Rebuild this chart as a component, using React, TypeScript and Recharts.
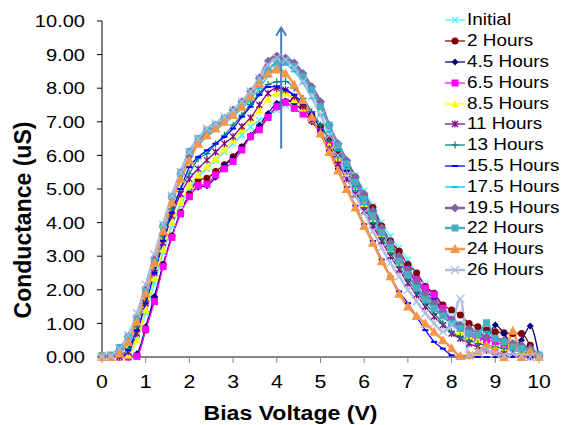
import React from "react";
import { LineChart, Line, XAxis, YAxis, Legend, ReferenceLine, Label } from "recharts";

// Bias voltage sweep, 0.2 V steps
const VOLTS = [
  0, 0.2, 0.4, 0.6, 0.8, 1, 1.2, 1.4, 1.6, 1.8, 2, 2.2, 2.4, 2.6, 2.8, 3, 3.2, 3.4, 3.6, 3.8,
  4, 4.2, 4.4, 4.6, 4.8, 5, 5.2, 5.4, 5.6, 5.8, 6, 6.2, 6.4, 6.6, 6.8, 7, 7.2, 7.4, 7.6, 7.8,
  8, 8.2, 8.4, 8.6, 8.8, 9, 9.2, 9.4, 9.6, 9.8, 10,
];

// Conductance (uS) per soak time
const INITIAL = [
  0, 0, 0, 0.1, 0.5, 1.3, 2.2, 3.1, 3.9, 4.5, 5.0, 5.35, 5.6, 5.85, 6.1, 6.35, 6.6, 6.85, 7.05, 7.2,
  7.35, 7.5, 7.55, 7.45, 7.2, 6.9, 6.55, 6.15, 5.8, 5.4, 4.95, 4.5, 4.0, 3.6, 3.25, 2.9, 2.5, 2.15, 1.8, 1.5,
  1.2, 1.0, 0.85, 0.75, 0.6, 0.5, 0.45, 0.3, 0.25, 0.2, 0.1,
];
const H2 = [
  0, 0, 0, 0, 0.05, 0.8, 1.75, 2.75, 3.6, 4.3, 4.85, 5.28, 5.32, 5.52, 5.72, 5.96, 6.25, 6.55, 6.83, 7.15,
  7.45, 7.6, 7.65, 7.45, 7.2, 6.85, 6.5, 6.1, 5.75, 5.35, 4.8, 4.45, 3.9, 3.45, 3.15, 2.75, 2.5, 2.1, 1.9, 1.55,
  1.4, 1.25, 1.0, 0.9, 0.8, 0.75, 0.72, 0.7, 0.7, 0.35, 0,
];
const H4_5 = [
  0, 0, 0, 0, 0.1, 0.9, 1.8, 2.75, 3.6, 4.3, 4.8, 5.05, 5.1, 5.35, 5.71, 5.9, 6.25, 6.6, 6.9, 7.25,
  7.55, 7.62, 7.55, 7.3, 7.0, 6.7, 6.35, 5.95, 5.55, 5.1, 4.7, 4.25, 3.75, 3.2, 2.85, 2.5, 2.25, 1.95, 1.75, 1.35,
  1.1, 0.95, 0.75, 0.6, 0.55, 0.95, 0.7, 0.35, 0.5, 0.92, 0,
];
const H6_5 = [
  0, 0, 0, 0, 0.02, 0.83, 1.65, 2.69, 3.56, 4.26, 4.77, 5.1, 5.14, 5.42, 5.6, 5.82, 6.16, 6.56, 6.76, 7.13,
  7.45, 7.58, 7.4, 7.23, 7.05, 6.7, 6.3, 5.85, 5.4, 4.95, 4.5, 4.1, 3.65, 3.25, 2.95, 2.6, 2.3, 2.05, 1.85, 1.45,
  1.1, 0.85, 0.65, 0.55, 0.5, 0.45, 0.35, 0.3, 0.1, 0.05, 0,
];
const H8_5 = [
  0, 0, 0, 0.05, 0.5, 1.4, 2.35, 3.2, 4.0, 4.6, 5.1, 5.4, 5.67, 5.9, 6.18, 6.45, 6.76, 7.05, 7.35, 7.67,
  7.85, 7.85, 7.65, 7.4, 7.05, 6.7, 6.3, 5.9, 5.45, 5.0, 4.55, 4.1, 3.65, 3.2, 2.8, 2.45, 2.1, 1.8, 1.5, 1.25,
  1.0, 0.75, 0.6, 0.5, 0.35, 0.3, 0.25, 0.3, 0.15, 0.1, 0,
];
const H11 = [
  0, 0, 0, 0.15, 0.7, 1.6, 2.5, 3.4, 4.2, 4.85, 5.3, 5.6, 5.86, 6.1, 6.35, 6.56, 6.86, 7.12, 7.5, 7.85,
  8.0, 7.95, 7.75, 7.45, 7.05, 6.65, 6.2, 5.75, 5.3, 4.85, 4.35, 3.9, 3.45, 3.0, 2.6, 2.2, 1.85, 1.5, 1.2, 0.95,
  0.7, 0.55, 0.4, 0.3, 0.2, 0.15, 0.1, 0.1, 0.05, 0, 0,
];
const H13 = [
  0, 0, 0.05, 0.25, 0.9, 1.8, 2.7, 3.6, 4.4, 5.0, 5.45, 5.9, 6.05, 6.34, 6.6, 6.9, 7.2, 7.52, 7.85, 8.11,
  8.19, 8.2, 8.0, 7.7, 7.3, 6.9, 6.45, 5.95, 5.45, 4.95, 4.45, 4.0, 3.55, 3.1, 2.7, 2.3, 1.95, 1.6, 1.3, 1.0,
  0.75, 0.6, 0.5, 0.4, 0.35, 0.3, 0.25, 0.2, 0.15, 0.1, 0,
];
const H15_5 = [
  0, 0, 0, 0.2, 0.8, 1.6, 2.5, 3.45, 4.3, 5.0, 5.65, 5.95, 6.15, 6.35, 6.55, 6.8, 7.15, 7.45, 7.8, 8.04,
  8.05, 7.95, 7.8, 7.55, 7.25, 6.75, 6.15, 5.6, 5.05, 4.5, 3.95, 3.45, 2.9, 2.4, 1.95, 1.6, 1.2, 0.8, 0.45, 0.25,
  0.05, 0, 0, 0, 0, 0, 0, 0, 0, 0, 0,
];
const H17_5 = [
  0, 0.02, 0.2, 0.55, 1.15, 2.0, 2.9, 3.85, 4.7, 5.4, 5.95, 6.3, 6.55, 6.75, 6.95, 7.15, 7.4, 7.65, 8.0, 8.35,
  8.6, 8.7, 8.5, 8.15, 7.7, 7.2, 6.7, 6.15, 5.6, 5.05, 4.55, 4.1, 3.65, 3.25, 2.85, 2.45, 2.1, 1.8, 1.5, 1.2,
  0.95, 0.8, 0.7, 0.65, 0.75, 0.55, 0.4, 0.35, 0.3, 0.2, 0.05,
];
const H19_5 = [
  0, 0.02, 0.2, 0.6, 1.2, 2.05, 2.95, 3.9, 4.75, 5.45, 6.0, 6.4, 6.7, 6.9, 7.1, 7.35, 7.6, 7.9, 8.3, 8.8,
  8.96, 8.9, 8.75, 8.44, 8.04, 7.6, 6.9, 6.35, 5.85, 5.35, 4.85, 4.35, 3.85, 3.4, 3.0, 2.6, 2.25, 1.9, 1.6, 1.35,
  1.1, 0.95, 0.85, 0.7, 0.6, 0.55, 0.5, 0.4, 0.35, 0.25, 0.05,
];
const H22 = [
  0.04, 0.06, 0.28, 0.6, 1.18, 1.95, 2.83, 3.9, 4.78, 5.5, 6.12, 6.5, 6.75, 6.9, 7.1, 7.3, 7.55, 7.85, 8.2, 8.55,
  8.75, 8.8, 8.65, 8.35, 7.95, 7.45, 6.9, 6.3, 5.75, 5.2, 4.7, 4.2, 3.7, 3.25, 2.85, 2.45, 2.05, 1.7, 1.45, 1.22,
  1.0, 0.85, 0.7, 0.65, 1.02, 0.55, 0.45, 0.3, 0.25, 0.15, 0.05,
];
const H24 = [
  0, 0, 0.1, 0.45, 1.05, 1.9, 2.8, 3.75, 4.6, 5.3, 5.85, 6.35, 6.6, 6.8, 7.0, 7.2, 7.45, 7.75, 8.15, 8.44,
  8.56, 8.44, 8.1, 7.65, 7.15, 6.65, 6.1, 5.55, 5.0, 4.45, 3.9, 3.4, 2.85, 2.4, 1.88, 1.5, 1.22, 1.0, 0.75, 0.5,
  0.26, 0.03, 0.05, 0.16, 0.36, 0.2, 0, 0.78, 0, 0.16, 0,
];
const H26 = [
  0, 0.03, 0.25, 0.65, 1.3, 2.15, 3.05, 3.95, 4.8, 5.5, 6.1, 6.5, 6.8, 6.95, 7.15, 7.35, 7.6, 7.9, 8.3, 8.7,
  8.9, 8.85, 8.6, 8.2, 7.75, 7.2, 6.6, 6.0, 5.4, 4.8, 4.3, 3.75, 3.25, 2.8, 2.4, 2.0, 1.65, 1.3, 1.0, 0.75,
  0.95, 1.73, 0.05, 0.15, 0.2, 0.1, 0.05, 0.1, 0.05, 0, 0,
];

const SERIES_NAMES = [
  "Initial", "2 Hours", "4.5 Hours", "6.5 Hours", "8.5 Hours", "11 Hours", "13 Hours",
  "15.5 Hours", "17.5 Hours", "19.5 Hours", "22 Hours", "24 Hours", "26 Hours",
];
const SERIES_VALUES = [INITIAL, H2, H4_5, H6_5, H8_5, H11, H13, H15_5, H17_5, H19_5, H22, H24, H26];

const X_TICKS = [0, 1, 2, 3, 4, 5, 6, 7, 8, 9, 10];
const Y_TICKS = [0, 1, 2, 3, 4, 5, 6, 7, 8, 9, 10];

// the "increasing with time" arrow
const ARROW_X = 4.1;
const ARROW_FROM = 6.2;
const ARROW_TO = 9.8;

/* ─── styling ─── */

const FONT = "'Liberation Sans', Arial, sans-serif";
const STRETCH = 1.18; // the original text is rendered wide (GDI)

type Shape = "x" | "circle" | "diamond" | "square" | "triangle" | "star" | "plus" | "dash";

const STYLES: Array<{ color: string; shape: Shape; width: number; size: number }> = [
  { color: "#4FF0FF", shape: "x", width: 1.25, size: 3 },
  { color: "#800000", shape: "circle", width: 1.25, size: 3.5 },
  { color: "#000080", shape: "diamond", width: 1.25, size: 3.5 },
  { color: "#FF00FF", shape: "square", width: 1.25, size: 3.5 },
  { color: "#FFFF00", shape: "triangle", width: 1.25, size: 4 },
  { color: "#800080", shape: "star", width: 1.25, size: 3 },
  { color: "#008080", shape: "plus", width: 1.25, size: 3.5 },
  { color: "#0000FF", shape: "dash", width: 1.25, size: 3 },
  { color: "#00C4F5", shape: "dash", width: 1.25, size: 3 },
  { color: "#8064A2", shape: "diamond", width: 2.5, size: 4.5 },
  { color: "#4BACC6", shape: "square", width: 2.5, size: 3.5 },
  { color: "#F79646", shape: "triangle", width: 2.5, size: 5 },
  { color: "#B0BCE0", shape: "x", width: 2.5, size: 4 },
];

const rows = VOLTS.map((v, i) => {
  const row: Record<string, number> = { v };
  SERIES_VALUES.forEach((s, k) => {
    row[`s${k}`] = s[i];
  });
  return row;
});

function Marker({ shape, color, cx, cy, size }: { shape: Shape; color: string; cx: number; cy: number; size: number }) {
  const s = size;
  switch (shape) {
    case "circle":
      return <circle cx={cx} cy={cy} r={s} fill={color} />;
    case "diamond":
      return <path d={`M${cx},${cy - s} L${cx + s},${cy} L${cx},${cy + s} L${cx - s},${cy} Z`} fill={color} />;
    case "square":
      return <rect x={cx - s} y={cy - s} width={2 * s} height={2 * s} fill={color} />;
    case "triangle":
      return <path d={`M${cx},${cy - s} L${cx + s},${cy + s * 0.8} L${cx - s},${cy + s * 0.8} Z`} fill={color} />;
    case "x":
      return (
        <path d={`M${cx - s},${cy - s} L${cx + s},${cy + s} M${cx - s},${cy + s} L${cx + s},${cy - s}`} stroke={color} strokeWidth={1.3} />
      );
    case "star":
      return (
        <path
          d={`M${cx - s},${cy - s} L${cx + s},${cy + s} M${cx - s},${cy + s} L${cx + s},${cy - s} M${cx},${cy - s * 1.2} L${cx},${cy + s * 1.2}`}
          stroke={color}
          strokeWidth={1.2}
        />
      );
    case "plus":
      return <path d={`M${cx - s},${cy} L${cx + s},${cy} M${cx},${cy - s} L${cx},${cy + s}`} stroke={color} strokeWidth={1.2} />;
    case "dash":
      return <rect x={cx - s} y={cy - 1} width={2 * s} height={2} fill={color} />;
  }
  return null;
}

function YTick(props: any) {
  const { x, y, payload } = props;
  return (
    <g transform={`translate(${x},${y})`}>
      <text transform={`scale(${STRETCH},1)`} textAnchor="end" dy="0.36em" fontSize={17} fontFamily={FONT} fill="#000">
        {Number(payload.value).toFixed(2)}
      </text>
    </g>
  );
}

function XTick(props: any) {
  const { x, y, payload } = props;
  return (
    <g transform={`translate(${x},${y})`}>
      <text transform={`scale(${STRETCH},1)`} textAnchor="middle" dy="0.71em" fontSize={18} fontFamily={FONT} fill="#000">
        {payload.value}
      </text>
    </g>
  );
}

function LegendBox() {
  return (
    <div style={{ fontFamily: FONT, fontSize: 16, color: "#000" }}>
      {SERIES_NAMES.map((name, i) => {
        const st = STYLES[i];
        return (
          <div key={name} style={{ display: "flex", alignItems: "center", height: 20.8, whiteSpace: "nowrap" }}>
            <svg width={24} height={20} style={{ flex: "none" }}>
              <line x1={2} y1={10} x2={22} y2={10} stroke={st.color} strokeWidth={st.width} />
              <Marker shape={st.shape} color={st.color} cx={12} cy={10} size={st.size} />
            </svg>
            <span style={{ display: "inline-block", transform: `scaleX(${STRETCH})`, transformOrigin: "left center" }}>{name}</span>
          </div>
        );
      })}
    </div>
  );
}

function Arrow(props: any) {
  const { x1, y1, x2, y2 } = props;
  const color = "#4A7EBB";
  return (
    <g>
      <line x1={x1} y1={y1} x2={x2} y2={y2} stroke={color} strokeWidth={2} />
      <path d={`M${x2 - 5},${y2 + 8} L${x2},${y2} L${x2 + 5},${y2 + 8}`} fill="none" stroke={color} strokeWidth={2} />
    </g>
  );
}

export default function App() {
  return (
    <div style={{ width: 565, height: 425, position: "relative", background: "#fff" }}>
      <style>{"body{margin:0}"}</style>
      <LineChart width={565} height={425} data={rows} margin={{ top: 21, right: 26, bottom: 0, left: 0 }}>
        <XAxis
          dataKey="v"
          type="number"
          domain={[0, 10]}
          ticks={X_TICKS}
          height={68}
          tickSize={6}
          tickMargin={12}
          axisLine={{ stroke: "#868686", strokeWidth: 2 }}
          tickLine={{ stroke: "#868686" }}
          tick={<XTick />}
        >
          <Label
            content={(p: any) => {
              const vb = p.viewBox;
              return (
                <g transform={`translate(${vb.x + vb.width / 2 - 30},${vb.y + 63})`}>
                  <text transform="scale(1.1,1)" textAnchor="middle" fontSize={21} fontWeight="bold" fontFamily={FONT} fill="#000">
                    Bias Voltage (V)
                  </text>
                </g>
              );
            }}
          />
        </XAxis>
        <YAxis
          type="number"
          domain={[0, 10]}
          ticks={Y_TICKS}
          width={102}
          tickSize={5}
          tickMargin={12}
          axisLine={{ stroke: "#000" }}
          tickLine={{ stroke: "#000" }}
          tick={<YTick />}
        >
          <Label
            content={(p: any) => {
              const vb = p.viewBox;
              const cx = vb.x + 31;
              const cy = vb.y + vb.height / 2 + 31;
              return (
                <text x={cx} y={cy} transform={`rotate(-90, ${cx}, ${cy})`} textAnchor="middle" fontSize={23} fontWeight="bold" fontFamily={FONT} fill="#000">
                  Conductance (uS)
                </text>
              );
            }}
          />
        </YAxis>
        {SERIES_NAMES.map((name, k) => {
          const st = STYLES[k];
          return (
            <Line
              key={name}
              name={name}
              dataKey={`s${k}`}
              type="monotone"
              stroke={st.color}
              strokeWidth={st.width}
              isAnimationActive={false}
              dot={(p: any) =>
                p.cy == null ? (
                  <g key={`${k}-${p.index}`} />
                ) : (
                  <Marker key={`${k}-${p.index}`} shape={st.shape} color={st.color} cx={p.cx} cy={p.cy} size={st.size} />
                )
              }
              activeDot={false}
            />
          );
        })}
        <ReferenceLine
          segment={[
            { x: ARROW_X, y: ARROW_FROM },
            { x: ARROW_X, y: ARROW_TO },
          ]}
          shape={Arrow}
        />
        <Legend
          layout="horizontal"
          align="center"
          verticalAlign="middle"
          wrapperStyle={{ left: 443, top: 10, width: 122 }}
          content={() => <LegendBox />}
        />
      </LineChart>
    </div>
  );
}
